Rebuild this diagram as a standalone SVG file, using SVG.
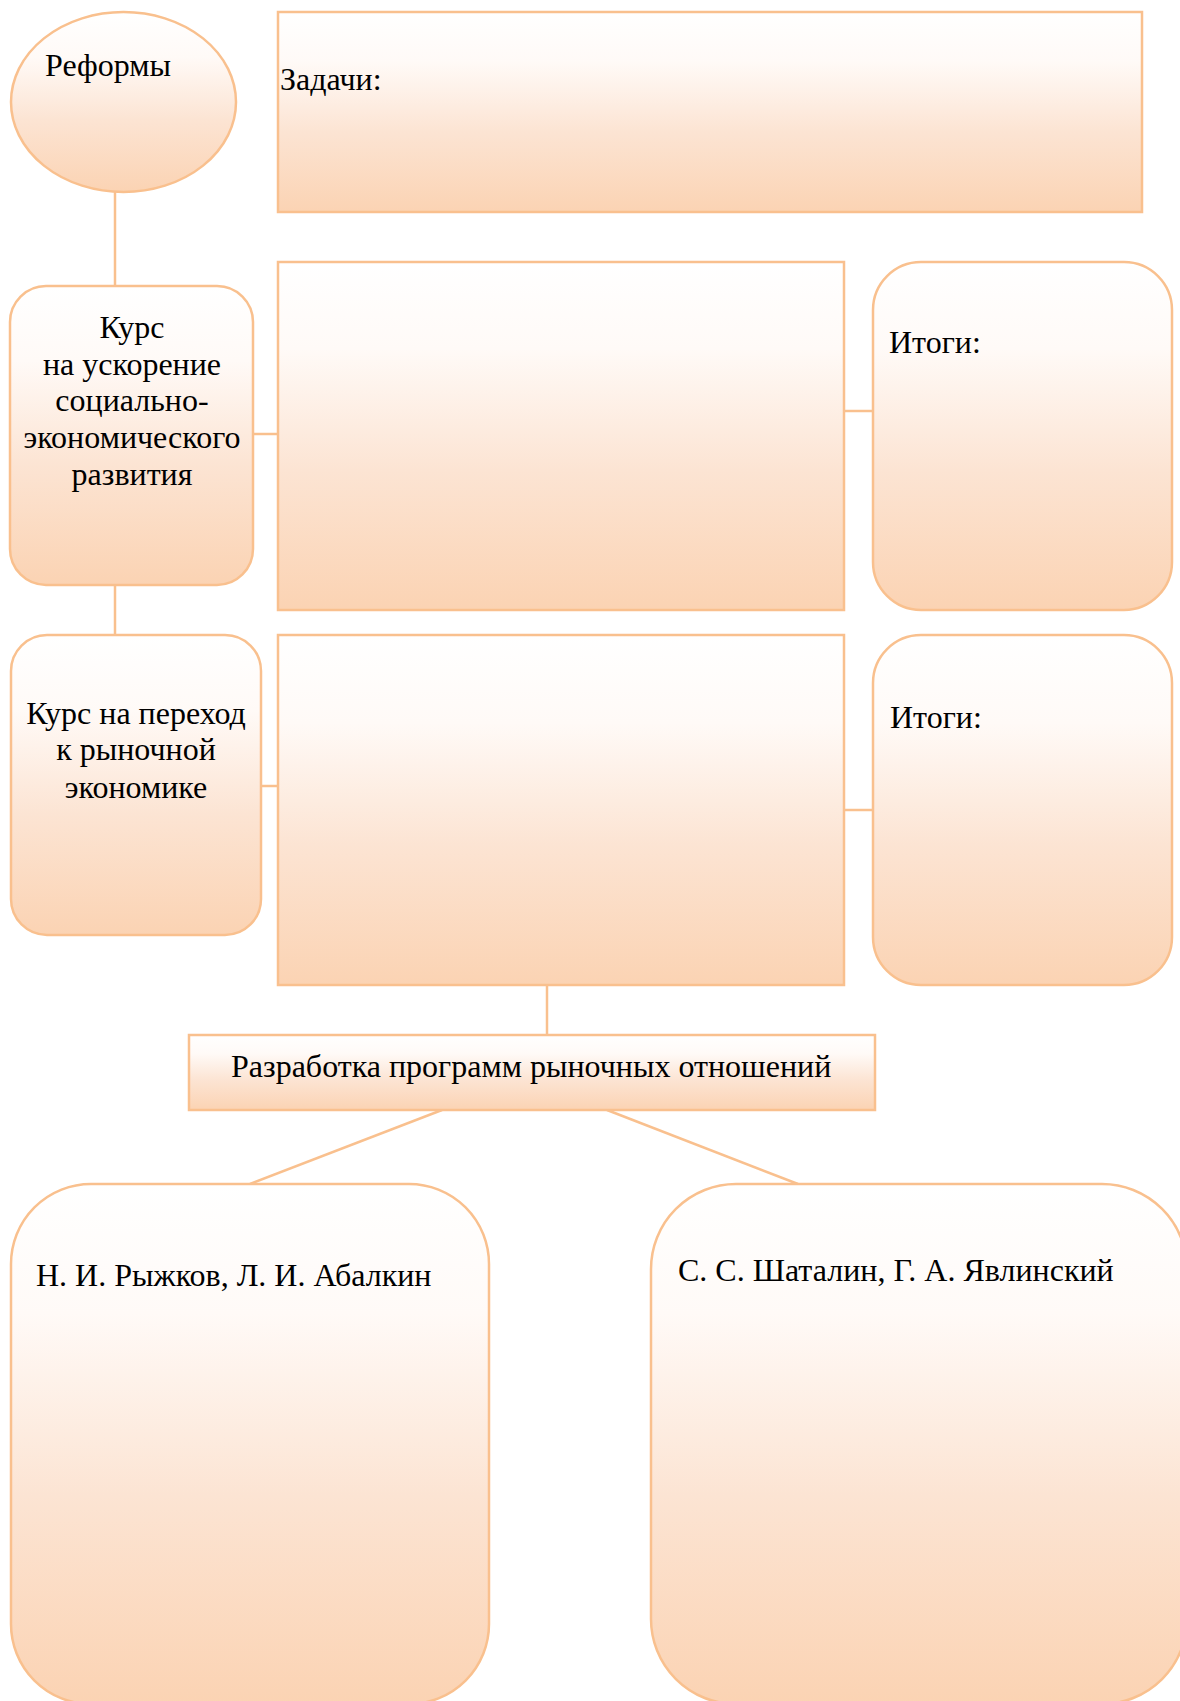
<svg xmlns="http://www.w3.org/2000/svg" width="1180" height="1701" viewBox="0 0 1180 1701">
<defs>
<linearGradient id="g" x1="0" y1="0" x2="0" y2="1">
<stop offset="0" stop-color="#FFFFFF"/>
<stop offset="0.25" stop-color="#FFFAF7"/>
<stop offset="0.6" stop-color="#FCE4D3"/>
<stop offset="1" stop-color="#FBD3B3"/>
</linearGradient>
</defs>
<style>
.s{fill:url(#g);stroke:#F9C08E;stroke-width:2.5}
.c{stroke:#F9C08E;stroke-width:2.5;fill:none}
text{font-family:"Liberation Serif","Times New Roman",serif;font-size:32px;fill:#000}
.m{text-anchor:middle}
</style>
<rect width="1180" height="1701" fill="#FFFFFF"/>
<g id="connectors">
<line class="c" x1="115" y1="192" x2="115" y2="286"/>
<line class="c" x1="115" y1="585" x2="115" y2="635"/>
<line class="c" x1="253" y1="434" x2="278" y2="434"/>
<line class="c" x1="844" y1="411" x2="873" y2="411"/>
<line class="c" x1="261" y1="786" x2="278" y2="786"/>
<line class="c" x1="844" y1="810" x2="873" y2="810"/>
<line class="c" x1="547" y1="985" x2="547" y2="1035"/>
<line class="c" x1="442" y1="1110" x2="250" y2="1184"/>
<line class="c" x1="607" y1="1110" x2="798" y2="1184"/>
</g>
<g id="reformy">
<ellipse class="s" cx="123.5" cy="102" rx="112.5" ry="90"/>
<text x="45" y="76">Реформы</text>
</g>
<g id="zadachi">
<rect class="s" x="278" y="12" width="864" height="200"/>
<text x="280" y="90">Задачи:</text>
</g>
<g id="kurs1">
<rect class="s" x="10" y="286" width="243" height="299" rx="36" ry="36"/>
<text class="m" x="132" y="338">Курс</text>
<text class="m" x="132" y="375">на ускорение</text>
<text class="m" x="132" y="411">социально-</text>
<text class="m" x="132" y="448">экономического</text>
<text class="m" x="132" y="485">развития</text>
</g>
<g id="box1">
<rect class="s" x="278" y="262" width="566" height="348"/>
</g>
<g id="itogi1">
<rect class="s" x="873" y="262" width="299" height="348" rx="48" ry="48"/>
<text x="889" y="353">Итоги:</text>
</g>
<g id="kurs2">
<rect class="s" x="11" y="635" width="250" height="300" rx="36" ry="36"/>
<text class="m" x="136" y="724">Курс на переход</text>
<text class="m" x="136" y="760">к рыночной</text>
<text class="m" x="136" y="798">экономике</text>
</g>
<g id="box2">
<rect class="s" x="278" y="635" width="566" height="350"/>
</g>
<g id="itogi2">
<rect class="s" x="873" y="635" width="299" height="350" rx="48" ry="48"/>
<text x="890" y="728">Итоги:</text>
</g>
<g id="razrabotka">
<rect class="s" x="189" y="1035" width="686" height="75"/>
<text x="231" y="1077">Разработка программ рыночных отношений</text>
</g>
<g id="ryzhkov">
<rect class="s" x="11" y="1184" width="478" height="520" rx="80" ry="80"/>
<text x="36" y="1286">Н. И. Рыжков, Л. И. Абалкин</text>
</g>
<g id="shatalin">
<rect class="s" x="651" y="1184" width="536" height="520" rx="85" ry="85"/>
<text x="678" y="1281">С. С. Шаталин, Г. А. Явлинский</text>
</g>
</svg>
